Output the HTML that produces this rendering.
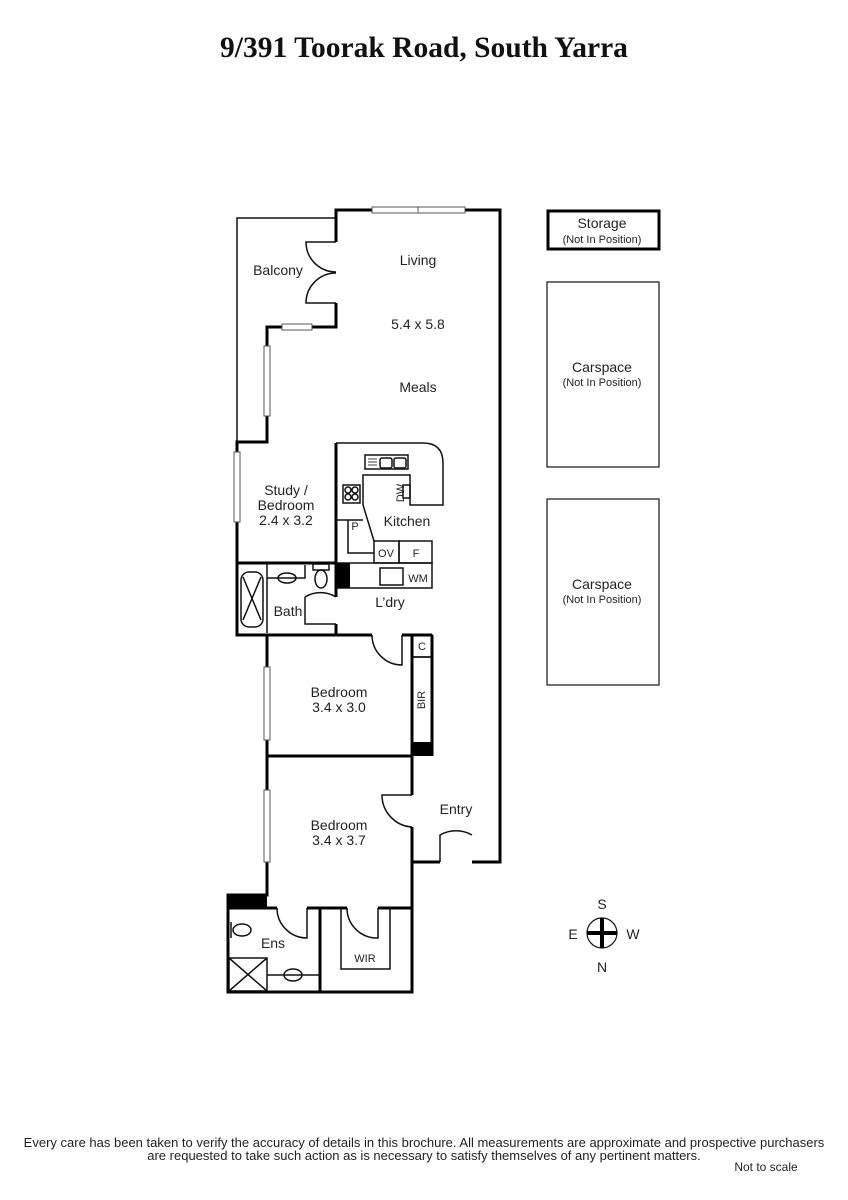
<!DOCTYPE html>
<html><head><style>
body{margin:0;background:#fff;width:848px;height:1200px;overflow:hidden}
svg{display:block}
text{font-family:"Liberation Sans",sans-serif;fill:#222}
</style></head><body>
<svg width="848" height="1200" viewBox="0 0 848 1200">
<text x="424" y="57" text-anchor="middle" style="font-family:'Liberation Serif',serif;font-weight:bold;font-size:29.5px;fill:#111">9/391 Toorak Road, South Yarra</text>
<g fill="none" stroke="#111" stroke-width="1.5">
<polyline points="336,218 237,218 237,442"/>
<path d="M336,443 H423 Q443,443 443,463 V505 H410 V475 H363 V505"/>
<rect x="365" y="455" width="43" height="14"/>
<rect x="380" y="458" width="12" height="10" rx="2"/><rect x="394" y="458" width="12" height="10" rx="2"/>
<line x1="368" y1="459" x2="377" y2="459" stroke-width="0.8"/><line x1="368" y1="462" x2="377" y2="462" stroke-width="0.8"/><line x1="368" y1="465" x2="377" y2="465" stroke-width="0.8"/>
<rect x="343" y="485" width="17" height="18"/>
<circle cx="348" cy="490" r="3"/><circle cx="355" cy="490" r="3"/><circle cx="348" cy="497" r="3"/><circle cx="355" cy="497" r="3"/>
<rect x="403" y="485" width="7" height="13"/>
<line x1="336" y1="520" x2="363" y2="520"/>
<polyline points="348,520 348,553 374,553"/>
<line x1="363" y1="505" x2="374" y2="541"/>
<rect x="374" y="541" width="25" height="22"/><rect x="399" y="541" width="33" height="22"/>
<rect x="336" y="563" width="96" height="25"/>
<rect x="380" y="568" width="23" height="17"/>
<line x1="267" y1="563" x2="267" y2="633"/>
<rect x="241" y="572" width="22" height="55" rx="8"/>
<line x1="243" y1="577" x2="261" y2="620"/><line x1="261" y1="577" x2="243" y2="620"/>
<path d="M267,578 H305 V565"/><ellipse cx="287" cy="578" rx="9" ry="5"/>
<rect x="313" y="564" width="16" height="6"/><ellipse cx="321" cy="579" rx="6" ry="9"/>
<path d="M336,242 H306 A30,30 0 0 0 336,272 M336,303 H306 A30,30 0 0 1 336,273"/>
<path d="M305,597 A30,30 0 0 1 336,597 M305,597 V624 H336"/>
<path d="M372,635 A30,30 0 0 0 402,665 V635"/>
<path d="M412,795 H382 A32,32 0 0 0 412,827"/>
<path d="M440,862 V835 A32,32 0 0 1 472,835"/>
<path d="M277,908 A30,30 0 0 0 307,938 V908"/>
<path d="M347,908 A30,30 0 0 0 378,938 V908"/>
<rect x="412" y="635" width="20" height="22"/>
<rect x="412" y="657" width="20" height="86"/>
<polyline points="341,908 341,969 390,969 390,908"/>
<ellipse cx="242" cy="930" rx="9" ry="6"/><line x1="231" y1="922" x2="231" y2="938"/>
<rect x="229" y="958" width="38" height="33"/>
<line x1="229" y1="958" x2="267" y2="991"/><line x1="267" y1="958" x2="229" y2="991"/>
<line x1="267" y1="975" x2="320" y2="975"/><ellipse cx="293" cy="975" rx="9" ry="6"/>
</g>
<g fill="none" stroke="#000" stroke-width="3">
<polyline points="336,242 336,210 500,210 500,862 472,862"/>
<polyline points="440,862 412,862"/>
<polyline points="336,303 336,327 267,327 267,442 237,442 237,635 372,635"/>
<line x1="402" y1="635" x2="432" y2="635"/>
<line x1="237" y1="563" x2="336" y2="563"/>
<line x1="336" y1="443" x2="336" y2="597"/>
<line x1="336" y1="624" x2="336" y2="635"/>
<polyline points="267,635 267,895 228,895 228,992 412,992 412,827"/>
<polyline points="412,795 412,756 267,756"/>
<line x1="412" y1="635" x2="412" y2="756"/>
<line x1="432" y1="635" x2="432" y2="756"/>
<line x1="228" y1="908" x2="277" y2="908"/><line x1="307" y1="908" x2="347" y2="908"/><line x1="378" y1="908" x2="412" y2="908"/>
<line x1="320" y1="908" x2="320" y2="992"/>
<rect x="548" y="211" width="111" height="38"/>
</g>
<g fill="#000">
<rect x="336" y="563" width="14" height="25"/>
<rect x="412" y="742" width="20" height="14"/>
<rect x="228" y="895" width="39" height="13"/>
</g>
<g fill="#fff" stroke="#555" stroke-width="1">
<rect x="372" y="207" width="93" height="6"/><line x1="418" y1="207" x2="418" y2="213"/>
<rect x="282" y="324" width="30" height="6"/>
<rect x="264" y="346" width="6" height="70"/>
<rect x="234" y="452" width="6" height="70"/>
<rect x="264" y="667" width="6" height="73"/>
<rect x="264" y="790" width="6" height="72"/>
</g>
<g fill="none" stroke="#111" stroke-width="1.2">
<rect x="547" y="282" width="112" height="185"/>
<rect x="547" y="499" width="112" height="186"/>
<circle cx="602" cy="933" r="15"/>
</g>
<rect x="600" y="918" width="4" height="30" fill="#000"/><rect x="587" y="931" width="30" height="4" fill="#000"/>
<g font-size="14" text-anchor="middle">
<text x="418" y="265">Living</text>
<text x="278" y="275">Balcony</text>
<text x="418" y="329">5.4 x 5.8</text>
<text x="418" y="392">Meals</text>
<text x="286" y="495">Study /</text><text x="286" y="510">Bedroom</text><text x="286" y="525">2.4 x 3.2</text>
<text x="407" y="526">Kitchen</text>
<text x="288" y="616">Bath</text>
<text x="390" y="607">L’dry</text>
<text x="339" y="697">Bedroom</text><text x="339" y="712">3.4 x 3.0</text>
<text x="339" y="830">Bedroom</text><text x="339" y="845">3.4 x 3.7</text>
<text x="456" y="814">Entry</text>
<text x="273" y="948">Ens</text>
<text x="602" y="228">Storage</text>
<text x="602" y="372">Carspace</text>
<text x="602" y="589">Carspace</text>
<text x="602" y="909">S</text><text x="602" y="972">N</text>
<text x="573" y="939">E</text><text x="633" y="939">W</text>
</g>
<g font-size="11" text-anchor="middle">
<text x="602" y="243">(Not In Position)</text>
<text x="602" y="386">(Not In Position)</text>
<text x="602" y="603">(Not In Position)</text>
<text x="355" y="530">P</text>
<text x="386" y="557">OV</text><text x="416" y="557">F</text>
<text x="418" y="582">WM</text>
<text x="422" y="650">C</text>
<text x="365" y="962">WIR</text>
<text transform="translate(425,700) rotate(-90)">BIR</text>
<text transform="translate(404,493) rotate(-90)">DW</text>
</g>
<g font-size="13" text-anchor="middle">
<text x="424" y="1147">Every care has been taken to verify the accuracy of details in this brochure.  All measurements are approximate and prospective purchasers</text>
<text x="424" y="1160">are requested to take such action as is necessary to satisfy themselves of any pertinent matters.</text>
<text x="766" y="1171" font-size="12">Not to scale</text>
</g>
</svg>
</body></html>
